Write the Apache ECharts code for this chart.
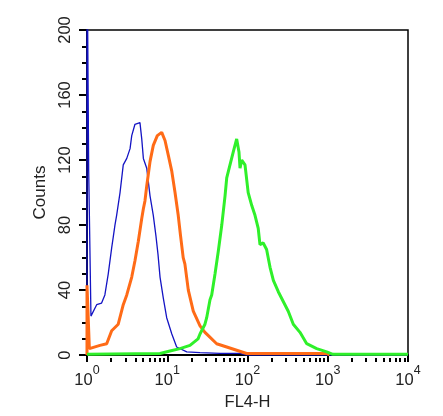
<!DOCTYPE html>
<html>
<head>
<meta charset="utf-8">
<script src="https://cdn.jsdelivr.net/npm/echarts@6/dist/echarts.min.js"></script>
<style>
  html, body { margin: 0; padding: 0; background: #fff; }
  #chart { width: 443px; height: 416px; }
</style>
</head>
<body>
<div id="chart"></div>
<script>
// FL4-H intensity (linear units) and counts
const blueX = [1.00, 1.00, 1.05, 1.05, 1.10, 1.12, 1.32, 1.52, 1.67, 1.84, 2.03, 2.13, 2.23, 2.34, 2.58, 2.83,
  3.13, 3.44, 3.61, 3.96, 4.57, 4.81, 5.04, 5.55, 6.10, 6.70, 7.24, 7.67, 8.13, 8.93, 9.84, 11.4, 13.1,
  17.5, 25.6, 45.4, 80.7, 98.6, 10000];
const blueY = [0, 260, 260, 113, 113, 24, 31, 32, 37, 50, 66, 73, 80, 86, 100, 117,
  121, 127, 135, 142, 143, 133, 121, 115, 98, 86, 73, 62, 48, 35, 23, 13, 5,
  2, 1.5, 1, 1, 0, 0];

const orangeX = [1.00, 1.00, 1.07, 1.45, 1.76, 2.03, 2.45, 2.83, 3.13, 3.61, 3.96, 4.36, 4.81, 5.04, 5.28,
  5.55, 6.10, 6.70, 7.52, 8.53, 9.38, 10.3, 11.4, 12.5, 13.7, 14.6, 15.8, 16.6, 18.3, 21.1, 25.6,
  29.5, 32.5, 41.3, 55.1, 73.3, 97.7, 980, 1050];
const orangeY = [0, 43, 4, 6, 7, 15, 19, 31, 37, 48, 58, 70, 84, 90, 95,
  104, 119, 129, 135, 137, 132, 123, 113, 100, 86, 74, 60, 56, 40, 27, 18,
  14, 12, 7, 5, 3, 1, 1, 0];

const greenX = [1.00, 8.13, 10.8, 14.4, 19.2, 24.2, 25.6, 29.5, 31.0, 34.1, 35.8, 39.4, 43.3, 47.8, 52.5,
  55.1, 60.5, 66.5, 73.3, 78.3, 80.7, 84.7, 93.1, 102, 113, 124, 136, 143, 157, 173, 191, 210,
  242, 279, 322, 372, 451, 547, 728, 971, 1160, 10000];
const greenY = [0.5, 1, 2.5, 4, 6, 10, 13, 19, 23, 34, 37, 50, 64, 80, 98,
  109, 117, 125, 133, 125, 115, 120, 117, 100, 92, 86, 78, 68, 69, 65, 54, 46,
  39, 33, 27, 19, 14, 7, 4, 2, 0.5, 0.5];

const decades = [0, 1, 2, 3, 4];

// minor log ticks 2..9 inside each decade
const minorTicks = [];
for (let d = 0; d < 4; d++) {
  for (let k = 2; k <= 9; k++) minorTicks.push(d + Math.log10(k));
}

const toPoints = (xs, ys) => xs.map((x, i) => [Math.log10(x), ys[i]]);

const chart = echarts.init(document.getElementById('chart'));
const font = 'Liberation Sans, Arial, Helvetica, sans-serif';
const plotH = 328;

chart.setOption({
  animation: false,
  grid: {
    left: 87, top: 30, width: 321, height: plotH,
    show: true, borderColor: '#000', borderWidth: 1.5
  },
  xAxis: [
    {
      type: 'value', min: 0, max: 4, interval: 1, position: 'bottom',
      name: 'FL4-H', nameLocation: 'middle', nameGap: 35,
      nameTextStyle: { fontFamily: font, fontSize: 16.5, color: '#222' },
      axisLine: { onZero: false, lineStyle: { color: '#000', width: 2 } },
      axisTick: { length: 7, lineStyle: { color: '#000', width: 2 } },
      axisLabel: {
        margin: 5,
        formatter: v => '{b|10}{s|' + decades[v] + '}',
        rich: {
          b: { fontFamily: font, fontSize: 16.5, color: '#222', padding: [12, 0, 0, 0] },
          s: { fontFamily: font, fontSize: 12.5, color: '#222', padding: [0, 0, 8, 0] }
        }
      },
      splitLine: { show: false }
    },
    {
      // minor log ticks: a top axis pulled down onto the bottom edge
      type: 'value', min: 0, max: 4, position: 'top', offset: -plotH,
      axisLine: { show: false, onZero: false },
      axisTick: { show: true, inside: true, customValues: minorTicks, length: 4,
        lineStyle: { color: '#000', width: 2 } },
      axisLabel: { show: false },
      splitLine: { show: false }
    }
  ],
  yAxis: {
    type: 'value', min: 0, max: 200, interval: 40,
    name: 'Counts', nameLocation: 'middle', nameGap: 34, nameRotate: 90,
    nameTextStyle: { fontFamily: font, fontSize: 17, color: '#222' },
    axisLine: { show: true, lineStyle: { color: '#000', width: 2 } },
    axisTick: { show: true, length: 8, lineStyle: { color: '#000', width: 2 } },
    minorTick: { show: true, splitNumber: 4, length: 5, lineStyle: { color: '#000', width: 2 } },
    axisLabel: { rotate: 90, margin: 13, fontFamily: font, fontSize: 16.5, color: '#222' },
    splitLine: { show: false }
  },
  series: [
    {
      name: 'blue', type: 'line', showSymbol: false,
      data: toPoints(blueX, blueY),
      lineStyle: { color: '#1414c4', width: 1.3 }
    },
    {
      name: 'orange', type: 'line', showSymbol: false,
      data: toPoints(orangeX, orangeY),
      lineStyle: { color: '#ff6b17', width: 3 }
    },
    {
      name: 'green', type: 'line', showSymbol: false,
      data: toPoints(greenX, greenY),
      lineStyle: { color: '#2ff02a', width: 3 }
    }
  ]
});
</script>
</body>
</html>
